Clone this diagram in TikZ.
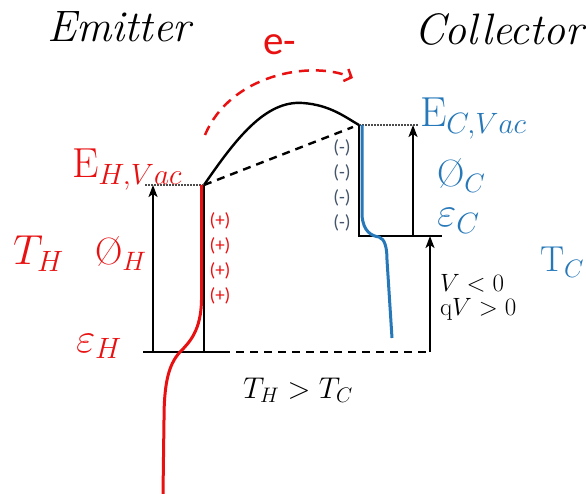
\RequirePackage{fix-cm}
\documentclass[tikz,border=0pt]{standalone}
\usepackage{fontspec}
\newfontfamily\calib{Carlito}
\usetikzlibrary{arrows.meta}
\definecolor{hred}{RGB}{232,16,16}
\definecolor{cblue}{RGB}{38,120,185}
\definecolor{slate}{RGB}{68,84,106}
\tikzset{
  lvl/.style={line width=2.4pt},
  dsh/.style={line width=2.4pt, dash pattern=on 8pt off 6pt},
  dot/.style={line width=1.2pt, dash pattern=on 1.5pt off 1.5pt, black!70},
  upar/.style={line width=2pt, -{Stealth[length=12pt,width=9pt,inset=3pt]}},
  lab/.style={anchor=base west, inner sep=0pt, outer sep=0pt},
  big/.style={lab, font=\fontsize{42}{42}\selectfont},
  phi/.style={lab, font=\fontsize{38}{38}\selectfont},
  sml/.style={lab, font=\fontsize{25}{25}\selectfont},
  chg/.style={anchor=center, inner sep=0pt, font=\calib\fontsize{19}{19}\selectfont}
}
\begin{document}
\begin{tikzpicture}[x=1pt,y=-1pt]
\useasboundingbox (0,0) rectangle (586,494);
% key coordinates
\coordinate (EHv) at (204,185);
\coordinate (EHb) at (204,352);
\coordinate (BL) at (143,352);
\coordinate (BR) at (222,352);
\coordinate (DR) at (430,352);
\coordinate (EHd) at (145,185);
\coordinate (PHb) at (153,352);
\coordinate (PHt) at (153,185);
\coordinate (CT) at (359,125);
\coordinate (CB) at (359,236);
\coordinate (CR) at (442,236);
\coordinate (CTd) at (418,125);
\coordinate (PCb) at (413,236);
\coordinate (PCt) at (413,125);
\coordinate (Vb) at (430,352);
\coordinate (Vt) at (430,236);
\coordinate (TopB) at (303,103);
\coordinate (DashE) at (353,127);
\coordinate (ArcS) at (205,135);
\coordinate (ArcE) at (353,78);
\coordinate (RedTop) at (201.5,185);
\coordinate (RedEnd) at (163,494);
\coordinate (BlueTop) at (362,125);
\coordinate (BlueEnd) at (392,338);

% titles
\node[lab, font=\fontsize{44}{44}\selectfont] (emit) at (47,42) {\itshape Emitter};
\node[lab, font=\fontsize{44}{44}\selectfont] (coll) at (414,45) {\itshape Collector};
\node[lab, text=hred, font=\calib\fontsize{41}{41}\selectfont] (el) at (263,55) {e-};

% electron arc
\draw[hred, line width=2.5pt, dash pattern=on 10pt off 7pt, -{Straight Barb[length=6pt,width=13pt]}]
  (ArcS) .. controls (230,75) and (310,60) .. (ArcE);

% barrier
\draw[lvl] (EHv) .. controls (235,140) and (265,100) .. (TopB)
  .. controls (330,105) and (345,117) .. (CT);
\draw[dsh] (EHv) -- (DashE);

% emitter
\draw[dot] (EHd) -- (EHv);
\draw[lvl] (BL) -- (BR);
\draw[dsh] (BR) -- (DR);
\draw[lvl] (EHv) -- (EHb);
\draw[upar] (PHb) -- (PHt);
\draw[hred, line width=3pt] (RedTop) -- (201.5,300) .. controls (201,330) and (190,342) .. (180,352)
  .. controls (168,365) and (164,385) .. (164,420) -- (RedEnd);

% collector
\draw[dot] (CT) -- (CTd);
\draw[lvl] (CT) -- (CB) -- (CR);
\draw[upar] (PCb) -- (PCt);
\draw[upar] (Vb) -- (Vt);
\draw[cblue, line width=3pt] (BlueTop) -- (362,215) .. controls (363,232) and (372,236) .. (379,237)
  .. controls (385,239) and (387,248) .. (387,260) -- (BlueEnd);

% emitter labels
\node[big, text=hred] (ehvac) at (72,178) {$\mathrm{E}_{H,Vac}$};
\node[big, text=hred] (th) at (13,265) {$T_H$};
\node[phi, text=hred] (phih) at (95,265) {Ø$_H$};
\node[big, text=hred] (epsh) at (76,352) {$\varepsilon_H$};
\foreach \y/\n in {221/1,246/2,271/3,296/4}
  \node[chg, text=hred] (p\n) at (220,\y) {(+)};

% collector labels
\node[big, text=cblue] (ecvac) at (420,127) {$\mathrm{E}_{C,Vac}$};
\node[phi, text=cblue] (phic) at (437,187) {Ø$_C$};
\node[big, text=cblue] (epsc) at (437,227) {$\varepsilon_C$};
\node[lab, text=cblue, font=\fontsize{36}{36}\selectfont] (tc) at (540,272) {$\mathrm{T}_C$};
\foreach \y/\n in {148/1,173/2,198/3,223/4}
  \node[chg, text=slate] (m\n) at (342,\y) {(-)};

% voltage labels
\node[sml] (vneg) at (440,291) {$V<0$};
\node[sml] (qv) at (440,316) {$\mathrm{q}V>0$};
\node[lab, font=\fontsize{30}{30}\selectfont] (thtc) at (243,398) {$T_H>T_C$};
\end{tikzpicture}
\end{document}
